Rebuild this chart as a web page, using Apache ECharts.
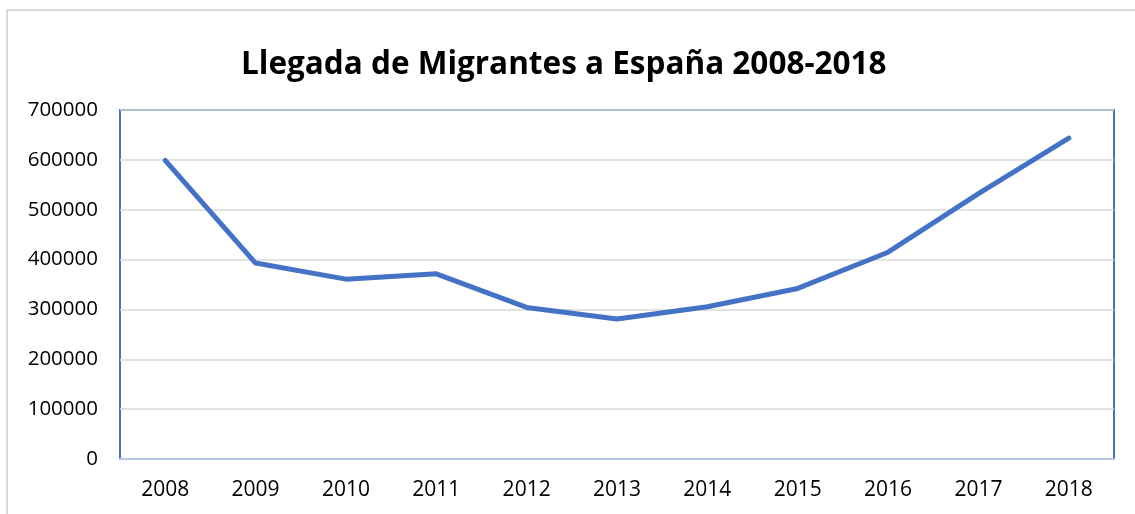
<!DOCTYPE html>
<html><head><meta charset="utf-8">
<script src="https://cdn.jsdelivr.net/npm/echarts@6/dist/echarts.min.js"></script>
<style>html,body{margin:0;padding:0;background:#fff}#c{width:1135px;height:514px}</style>
</head><body><div id="c"></div>
<script>
const years = ['2008','2009','2010','2011','2012','2013','2014','2015','2016','2017','2018'];
const migrants = [599075,392962,360705,371335,304053,280772,305454,342114,414746,532132,643684];
const yTicks = {min:0, max:700000, interval:100000};
const titleText = 'Llegada de Migrantes a España 2008-2018';

const chart = echarts.init(document.getElementById('c'));
const font = '"Open Sans", sans-serif';
chart.setOption({
  animation:false,
  graphic:[{type:'rect', shape:{x:7,y:10,width:1200,height:600}, style:{fill:'none', stroke:'#d9d9d9', lineWidth:2}, z:-10}],
  title:{text:titleText, left:236, top:44, textStyle:{fontFamily:font, fontWeight:'bold', fontSize:31.5, color:'#000'}},
  grid:{left:120, right:21, top:110, bottom:55, show:true, borderColor:'#4472C4', borderWidth:2, backgroundColor:'transparent'},
  xAxis:{type:'category', data:years, boundaryGap:true,
    axisLine:{show:true, lineStyle:{color:'#B4C7E7', width:2}}, axisTick:{show:false},
    axisLabel:{fontFamily:font, fontSize:21, color:'#000', margin:21}},
  yAxis:{type:'value', min:yTicks.min, max:yTicks.max, interval:yTicks.interval,
    axisLine:{show:false}, axisTick:{show:false},
    splitLine:{lineStyle:{color:'#d9d9d9', width:1.5}},
    axisLabel:{fontFamily:font, fontSize:20.5, color:'#000', margin:22, formatter:v=>String(v)}},
  series:[{type:'line', data:migrants, symbol:'none', smooth:false,
    lineStyle:{color:'#4472C4', width:5, cap:'round', join:'round'}}]
});
</script></body></html>
